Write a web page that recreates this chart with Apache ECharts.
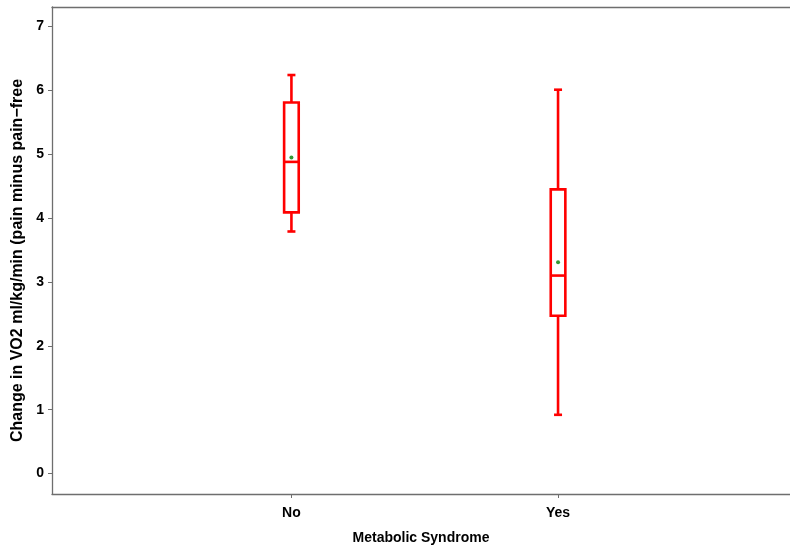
<!DOCTYPE html>
<html>
<head>
<meta charset="utf-8">
<script src="https://cdn.jsdelivr.net/npm/echarts@6/dist/echarts.min.js"></script>
<style>
  html, body { margin: 0; padding: 0; background: #fff; }
  #chart { width: 790px; height: 551px; }
</style>
</head>
<body>
<div id="chart"></div>
<script>
// box statistics per group
const categories = ['No', 'Yes']
const catPositions = [1, 2]
const whiskerLow = [3.79, 0.92]
const q1 = [4.09, 2.47]
const medians = [4.88, 3.10]
const q3 = [5.81, 4.45]
const whiskerHigh = [6.24, 6.01]
const means = [4.95, 3.31]
const yTicks = [0, 1, 2, 3, 4, 5, 6, 7]

const font = "'Liberation Sans', Arial, Helvetica, sans-serif"
const axisGray = '#6e6e6e'

const boxData = catPositions.map((x, i) => [x, whiskerLow[i], q1[i], medians[i], q3[i], whiskerHigh[i]])
const meanData = catPositions.map((x, i) => [x, means[i]])

function renderBox(params, api) {
  const x = api.value(0)
  const lo = api.coord([x, api.value(1)])
  const b1 = api.coord([x, api.value(2)])
  const md = api.coord([x, api.value(3)])
  const b3 = api.coord([x, api.value(4)])
  const hi = api.coord([x, api.value(5)])
  const hw = 7.3
  const cw = 4
  const style = { stroke: '#ff0000', lineWidth: 2.6, fill: null }
  return {
    type: 'group',
    children: [
      { type: 'line', shape: { x1: lo[0], y1: lo[1], x2: b1[0], y2: b1[1] }, style: style },
      { type: 'line', shape: { x1: b3[0], y1: b3[1], x2: hi[0], y2: hi[1] }, style: style },
      { type: 'line', shape: { x1: lo[0] - cw, y1: lo[1], x2: lo[0] + cw, y2: lo[1] }, style: style },
      { type: 'line', shape: { x1: hi[0] - cw, y1: hi[1], x2: hi[0] + cw, y2: hi[1] }, style: style },
      { type: 'rect', shape: { x: b3[0] - hw, y: b3[1], width: hw * 2, height: b1[1] - b3[1] }, style: { stroke: '#ff0000', lineWidth: 2.6, fill: 'none' } },
      { type: 'line', shape: { x1: md[0] - hw, y1: md[1], x2: md[0] + hw, y2: md[1] }, style: style }
    ]
  }
}

const chart = echarts.init(document.getElementById('chart'))
chart.setOption({
  animation: false,
  backgroundColor: '#ffffff',
  grid: { left: 52, right: 0, top: 7, bottom: 57 },
  xAxis: [{
    type: 'value',
    min: 0.102,
    max: 2.87,
    name: 'Metabolic Syndrome',
    nameLocation: 'middle',
    nameGap: 37,
    nameTextStyle: { fontFamily: font, fontWeight: 'bold', fontSize: 14, color: '#000' },
    splitLine: { show: false },
    axisLine: { show: true, onZero: false, lineStyle: { color: axisGray, width: 1.3 } },
    axisTick: { show: true, length: 4, customValues: catPositions, lineStyle: { color: axisGray } },
    axisLabel: {
      customValues: catPositions,
      margin: 12,
      fontFamily: font, fontWeight: 'bold', fontSize: 14, color: '#000',
      formatter: v => categories[catPositions.indexOf(Math.round(v))] || ''
    }
  }, {
    type: 'value',
    position: 'top',
    min: 0.102,
    max: 2.87,
    splitLine: { show: false },
    axisLine: { show: true, onZero: false, lineStyle: { color: axisGray, width: 1.3 } },
    axisTick: { show: false },
    axisLabel: { show: false }
  }],
  yAxis: {
    type: 'value',
    min: -0.32,
    max: 7.305,
    name: 'Change in VO2 ml/kg/min (pain minus pain\u2212free',
    nameLocation: 'middle',
    nameGap: 25,
    nameTextStyle: { fontFamily: font, fontWeight: 'bold', fontSize: 16, color: '#000', padding: [0, 20, 0, 0] },
    splitLine: { show: false },
    axisLine: { show: true, onZero: false, lineStyle: { color: axisGray, width: 1.3 } },
    axisTick: { show: true, length: 4, customValues: yTicks, lineStyle: { color: axisGray } },
    axisLabel: {
      customValues: yTicks,
      margin: 8,
      fontFamily: font, fontWeight: 'bold', fontSize: 14, color: '#000'
    }
  },
  series: [{
    type: 'custom',
    renderItem: renderBox,
    encode: { x: 0, y: [1, 2, 3, 4, 5] },
    data: boxData,
    z: 2
  }, {
    type: 'scatter',
    data: meanData,
    symbol: 'circle',
    symbolSize: 4,
    itemStyle: { color: '#008000' },
    z: 3
  }]
})
</script>
</body>
</html>
